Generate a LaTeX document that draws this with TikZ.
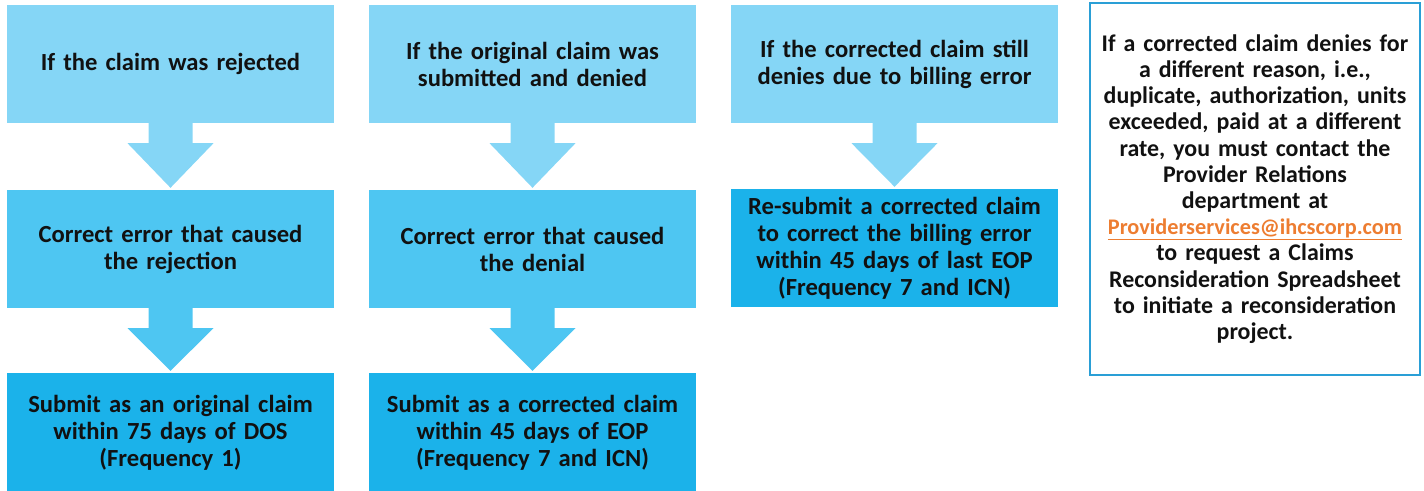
\documentclass[tikz,border=0pt]{standalone}
\usepackage{fontspec}
\setmainfont{Carlito}
\usetikzlibrary{calc}
\definecolor{rowa}{HTML}{85D6F6}
\definecolor{rowb}{HTML}{4EC6F2}
\definecolor{rowc}{HTML}{1BB2EA}
\definecolor{frameblue}{HTML}{2A9FD6}
\definecolor{linkorange}{HTML}{ED7D31}
\definecolor{txt}{HTML}{111111}
\begin{document}
\begin{tikzpicture}[x=1pt,y=-1pt,
  stepbox/.style={rectangle, inner sep=0pt, minimum width=327pt, minimum height=118pt,
    align=center, text width=324pt, text=txt,
    font=\fontsize{24.6}{27}\selectfont\bfseries},
  notebox/.style={rectangle, draw=frameblue, line width=2pt, inner sep=0pt,
    minimum width=330pt, minimum height=372pt, align=center, text width=326pt, text=txt,
    font=\fontsize{23.9}{26.2}\selectfont\bfseries}]
\useasboundingbox (0,0) rectangle (1424,490);
% column 1
\node[stepbox, fill=rowa] (a1) at (170.5,64) {If the claim was rejected};
\node[stepbox, fill=rowb] (a2) at (170.5,249) {Correct error that caused\\the rejection};
\node[stepbox, fill=rowc, minimum height=120pt] (a3) at (170.5,433) {Submit as an original claim\\within 75 days of DOS\\(Frequency 1)};
% column 2
\node[stepbox, fill=rowa] (b1) at (532.5,64) {If the original claim was\\submitted and denied};
\node[stepbox, fill=rowb] (b2) at (532.5,249) {Correct error that caused\\the denial};
\node[stepbox, fill=rowc, minimum height=120pt] (b3) at (532.5,433) {Submit as a corrected claim\\within 45 days of EOP\\(Frequency 7 and ICN)};
% column 3
\node[stepbox, fill=rowa] (c1) at (894.5,64) {If the corrected claim still\\denies due to billing error};
\node[stepbox, fill=rowc] (c2) at (894.5,248) {Re-submit a corrected claim\\to correct the billing error\\within 45 days of last EOP\\(Frequency 7 and ICN)};
% note
\node[notebox] (n) at (1255,189) {If a corrected claim denies for\\a different reason, i.e.,\\duplicate, authorization, units\\exceeded, paid at a different\\rate, you must contact the\\Provider Relations\\department at\\{\fontsize{22.3}{26.2}\selectfont\color{linkorange}\underline{Providerservices@ihcscorp.com}}\\to request a Claims\\Reconsideration Spreadsheet\\to initiate a reconsideration\\project.};
% arrows
\foreach \s/\t/\c in {a1/a2/rowa, a2/a3/rowb, b1/b2/rowa, b2/b3/rowb, c1/c2/rowa}{
  \fill[\c] ($(\s.south)+(-22,-0.5)$) -- ($(\s.south)+(-22,20)$) -- ($(\s.south)+(-43,20)$)
    -- ($(\t.north)+(0,-2)$) -- ($(\s.south)+(43,20)$) -- ($(\s.south)+(22,20)$)
    -- ($(\s.south)+(22,-0.5)$) -- cycle;
}
\end{tikzpicture}
\end{document}
